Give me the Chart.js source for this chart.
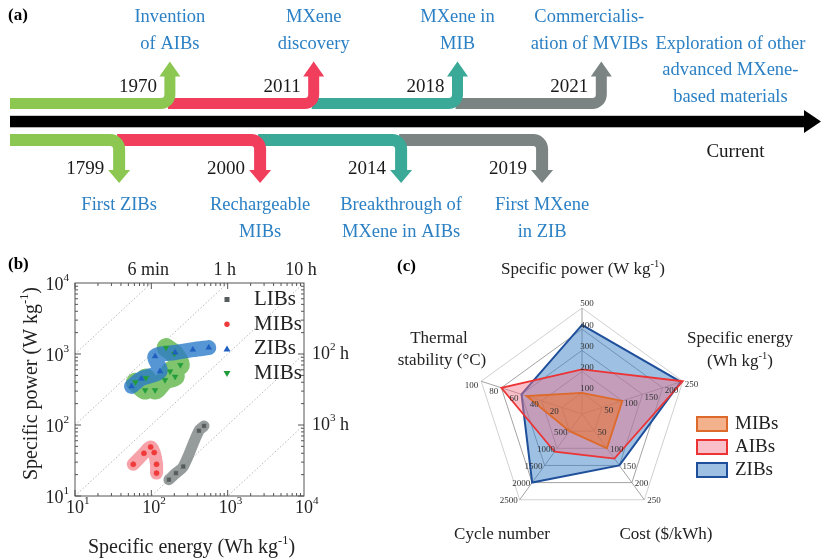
<!DOCTYPE html>
<html>
<head>
<meta charset="utf-8">
<script src="https://cdn.jsdelivr.net/npm/chart.js@4.4.0/dist/chart.umd.min.js"></script>
<style>
    html, body { margin: 0; padding: 0; background: #fff; }
    #wrap { position: relative; width: 829px; height: 560px; overflow: hidden; }
    canvas { position: absolute; }
</style>
</head>
<body>
<div id="wrap">
    <canvas id="timeline" width="829" height="250" style="left:0;top:0"></canvas>
    <canvas id="ragone" width="380" height="310" style="left:0;top:250px"></canvas>
    <canvas id="radar" width="449" height="310" style="left:380px;top:250px"></canvas>
</div>
<script>
// (a) timeline
var topYears = ['1970', '2011', '2018', '2021'];
var topEvents = [['Invention', 'of AIBs'], ['MXene', 'discovery'], ['MXene in', 'MIB'], ['Commercialis-', 'ation of MVIBs']];
var bottomYears = ['1799', '2000', '2014', '2019'];
var bottomEvents = [['First ZIBs'], ['Rechargeable', 'MIBs'], ['Breakthrough of', 'MXene in AIBs'], ['First MXene', 'in ZIB']];
var futureEvent = ['Exploration of other', 'advanced MXene-', 'based materials'];
var nowLabel = 'Current';
var bandColors = ['#8cc751', '#f03e5c', '#3aa997', '#7b8483'];

// (b) Ragone plot
var axisDecades = [10, 100, 1000, 10000];
var libE = [170, 210, 262, 420, 490];
var libP = [17, 21, 26, 83, 97];
var mibE = [58, 80, 98, 109, 117, 117];
var mibP = [28, 40, 49, 41, 28, 21];
var zibE = [55, 74, 130, 112, 205, 350, 565];
var zibP = [350, 450, 570, 930, 1050, 1150, 1230];
var mib2E = [62, 83, 85, 112, 151, 205, 176, 240, 200, 156];
var mib2P = [400, 310, 460, 310, 430, 480, 570, 700, 1010, 1230];
var timeLines = [0.001, 0.01, 0.1, 1, 10, 100];       // hours = E / P
var topTimeAt = [100, 1000, 10000];
var topTimeLabels = ['6 min', '1 h', '10 h'];
var rightTimeAt = [1000, 100];
var rightTimeExp = ['2', '3'];

// (c) radar
var radarAxes = ['Specific power', 'Specific energy', 'Cost', 'Cycle number', 'Thermal stability'];
var axisMax = [500, 250, 250, 2500, 100];
var axisTicks = [
    [100, 200, 300, 400, 500],
    [50, 100, 150, 200, 250],
    [50, 100, 150, 200, 250],
    [500, 1000, 1500, 2000, 2500],
    [20, 40, 60, 80, 100]
];
var radarMIBs = [100, 100, 100, 500, 55];
var radarAIBs = [210, 250, 130, 1100, 80];
var radarZIBs = [420, 245, 150, 2000, 60];

var SERIF = '"Liberation Serif", "DejaVu Serif", serif';
var EVENT_BLUE = '#2c80c4';

function richText(ctx, parts, x, y, size, align) {
    ctx.save();
    ctx.textBaseline = 'middle';
    ctx.textAlign = 'left';
    var widths = parts.map(function (p) {
        ctx.font = (p[1] ? size * 0.62 : size) + 'px ' + SERIF;
        return ctx.measureText(p[0]).width;
    });
    var total = widths.reduce(function (a, b) { return a + b; }, 0);
    var sx = align === 'center' ? x - total / 2 : (align === 'right' ? x - total : x);
    parts.forEach(function (p, i) {
        ctx.font = (p[1] ? size * 0.62 : size) + 'px ' + SERIF;
        ctx.fillText(p[0], sx, p[1] ? y - size * 0.36 : y);
        sx += widths[i];
    });
    ctx.restore();
}

function plainText(ctx, text, x, y, size, align, color, bold) {
    ctx.save();
    ctx.font = (bold ? 'bold ' : '') + size + 'px ' + SERIF;
    ctx.fillStyle = color;
    ctx.textAlign = align;
    ctx.textBaseline = 'middle';
    ctx.fillText(text, x, y);
    ctx.restore();
}

function drawBand(ctx, x0, x1, yc, dir, color, w, baseOff, tipOff, hw) {
    var r = 9;
    ctx.save();
    ctx.strokeStyle = color;
    ctx.fillStyle = color;
    ctx.lineWidth = w;
    ctx.beginPath();
    ctx.moveTo(x0, yc);
    ctx.lineTo(x1 - r, yc);
    ctx.arcTo(x1, yc, x1, yc + dir * r, r);
    ctx.lineTo(x1, yc + dir * (baseOff + 1));
    ctx.stroke();
    ctx.beginPath();
    ctx.moveTo(x1 - hw, yc + dir * baseOff);
    ctx.lineTo(x1 + hw, yc + dir * baseOff);
    ctx.lineTo(x1, yc + dir * tipOff);
    ctx.closePath();
    ctx.fill();
    ctx.restore();
}

var timelinePlugin = {
    id: 'timelineDraw',
    afterDraw: function (chart) {
        var ctx = chart.ctx;
        var xs = chart.scales.x;
        var left = chart.chartArea.left + 10;
        var topX = topYears.map(function (y, i) { return xs.getPixelForValue(i * 1.02 + 0.36); });
        var botX = bottomYears.map(function (y, i) { return xs.getPixelForValue(i); });

        ctx.save();
        ctx.fillStyle = '#000';
        ctx.fillRect(left, 115.8, 806 - left, 11.5);
        ctx.beginPath();
        ctx.moveTo(804, 110);
        ctx.lineTo(821, 121.5);
        ctx.lineTo(804, 133);
        ctx.closePath();
        ctx.fill();
        ctx.restore();

        for (var i = topYears.length - 1; i >= 0; i--) {
            drawBand(ctx, i === 0 ? left : topX[i - 1] - 2, topX[i], 103.5, -1, bandColors[i], 11, 27, 42, 10.5);
            drawBand(ctx, i === 0 ? left : botX[i - 1] - 2, botX[i], 140, 1, bandColors[i], 12, 30, 43, 11);
        }

        topYears.forEach(function (yr, i) {
            plainText(ctx, yr, topX[i] - 13, 87, 19, 'right', '#1a1a1a');
            var lines = topEvents[i];
            var cx = i === topYears.length - 1 ? topX[i] - 12 : topX[i];
            lines.forEach(function (t, l) {
                plainText(ctx, t, cx, 44 - 27 * (lines.length - 1 - l), 18.5, 'center', EVENT_BLUE);
            });
        });
        bottomYears.forEach(function (yr, i) {
            plainText(ctx, yr, botX[i] - 15, 169, 19, 'right', '#1a1a1a');
            bottomEvents[i].forEach(function (t, l) {
                plainText(ctx, t, botX[i], 205 + 27 * l, 18.5, 'center', EVENT_BLUE);
            });
        });
        var nowX = xs.getPixelForValue(4.35);
        futureEvent.forEach(function (t, l) {
            plainText(ctx, t, nowX - 2, 44 + 26.5 * l, 18.5, 'center', EVENT_BLUE);
        });
        plainText(ctx, nowLabel, nowX + 3, 152, 19, 'center', '#1a1a1a');
        plainText(ctx, '(a)', 8, 16, 17, 'left', '#000', true);
    }
};

new Chart(document.getElementById('timeline'), {
    type: 'scatter',
    data: { datasets: [] },
    options: {
        responsive: false,
        animation: false,
        layout: { padding: 0 },
        scales: {
            x: { type: 'linear', display: false, min: -0.845, max: 5.035 },
            y: { display: false, min: 0, max: 1 }
        },
        plugins: { legend: { display: false }, tooltip: { enabled: false } }
    },
    plugins: [timelinePlugin]
});

// ---------- (b) ----------
function pts(xv, yv) {
    return xv.map(function (x, i) { return { x: x, y: yv[i] }; });
}
function ribbon(xv, yv, color, width, tension) {
    return {
        data: pts(xv, yv), showLine: true, borderColor: color, borderWidth: width,
        tension: tension, pointRadius: 0, borderCapStyle: 'round', borderJoinStyle: 'round', fill: false
    };
}
function markers(label, xv, yv, style, color, radius, rotation) {
    return {
        label: label, data: pts(xv, yv), pointStyle: style, pointRadius: radius, rotation: rotation || 0,
        pointBackgroundColor: color, pointBorderColor: color, pointBorderWidth: 0.5, showLine: false
    };
}

var ragoneSets = [
    markers('LIBs', libE, libP, 'rect', '#565b5b', 2.6),
    markers('MIBs', mibE, mibP, 'circle', '#f03a3a', 2.6),
    markers('ZIBs', zibE, zibP, 'triangle', '#1f5fbf', 3.3),
    markers('MIBs', mib2E, mib2P, 'triangle', '#239c3c', 3.3, 180),
    ribbon(zibE, zibP, 'rgba(40,120,200,0.78)', 15, 0.3),
    ribbon(mib2E, mib2P, 'rgba(85,178,60,0.75)', 19, 0.2),
    ribbon(libE, libP, 'rgba(110,118,118,0.72)', 11, 0.35),
    ribbon(mibE, mibP, 'rgba(240,100,110,0.6)', 13, 0.35)
].concat(timeLines.map(function (t) {
    return {
        data: [{ x: 10, y: 10 / t }, { x: 10000, y: 10000 / t }], showLine: true,
        borderColor: '#a5a5a5', borderWidth: 0.8, borderDash: [1.5, 2], pointRadius: 0
    };
}));

function legendMarker(ctx, style, x, y, color) {
    ctx.save();
    ctx.fillStyle = color;
    ctx.beginPath();
    if (style === 'rect') {
        ctx.rect(x - 2.5, y - 2.5, 5, 5);
    } else if (style === 'circle') {
        ctx.arc(x, y, 2.7, 0, Math.PI * 2);
    } else if (style === 'up') {
        ctx.moveTo(x, y - 3.5); ctx.lineTo(x + 3.5, y + 2.5); ctx.lineTo(x - 3.5, y + 2.5);
    } else {
        ctx.moveTo(x, y + 3.5); ctx.lineTo(x + 3.5, y - 2.5); ctx.lineTo(x - 3.5, y - 2.5);
    }
    ctx.closePath();
    ctx.fill();
    ctx.restore();
}

var ragonePlugin = {
    id: 'ragoneDraw',
    afterDraw: function (chart) {
        var ctx = chart.ctx, a = chart.chartArea;
        var xs = chart.scales.x, ys = chart.scales.y;
        ctx.save();
        ctx.strokeStyle = '#555';
        ctx.lineWidth = 1;
        ctx.strokeRect(a.left, a.top, a.right - a.left, a.bottom - a.top);
        ctx.beginPath();
        for (var d = 0; d < axisDecades.length - 1; d++) {
            for (var m = 1; m <= 9; m++) {
                var v = axisDecades[d] * m;
                var len = m === 1 ? 6 : 3;
                var px = xs.getPixelForValue(v), py = ys.getPixelForValue(v);
                ctx.moveTo(px, a.bottom); ctx.lineTo(px, a.bottom - len);
                ctx.moveTo(px, a.top); ctx.lineTo(px, a.top + len);
                ctx.moveTo(a.left, py); ctx.lineTo(a.left + len, py);
                ctx.moveTo(a.right, py); ctx.lineTo(a.right - len, py);
            }
        }
        ctx.stroke();
        ctx.restore();

        ctx.fillStyle = '#222';
        axisDecades.forEach(function (v) {
            var e = String(Math.round(Math.log10(v)));
            var px = xs.getPixelForValue(v), py = ys.getPixelForValue(v);
            richText(ctx, [['10', 0], [e, 1]], px - 9, a.bottom + 12, 18, 'left');
            richText(ctx, [['10', 0], [e, 1]], a.left - 6, py + 2, 18, 'right');
        });
        topTimeAt.forEach(function (v, i) {
            plainText(ctx, topTimeLabels[i], xs.getPixelForValue(v) - 3, a.top - 13, 18, 'center', '#222');
        });
        ctx.fillStyle = '#222';
        rightTimeAt.forEach(function (v, i) {
            richText(ctx, [['10', 0], [rightTimeExp[i], 1], [' h', 0]], a.right + 8, ys.getPixelForValue(v), 18, 'left');
        });

        richText(ctx, [['Specific energy (Wh kg', 0], ['-1', 1], [')', 0]], (a.left + a.right) / 2 + 2, 298, 20, 'center');
        ctx.save();
        ctx.translate(32, (a.top + a.bottom) / 2 - 6);
        ctx.rotate(-Math.PI / 2);
        richText(ctx, [['Specific power (W kg', 0], ['-1', 1], [')', 0]], 0, 0, 20, 'center');
        ctx.restore();

        var legendRows = [['LIBs', 'rect', '#565b5b'], ['MIBs', 'circle', '#f03a3a'], ['ZIBs', 'up', '#1f5fbf'], ['MIBs', 'down', '#239c3c']];
        legendRows.forEach(function (r, i) {
            var y = a.top + 16.5 + 24.7 * i;
            legendMarker(ctx, r[1], a.right - 77, y, r[2]);
            plainText(ctx, r[0], a.right - 50, y, 21, 'left', '#222');
        });
        plainText(ctx, '(b)', 8, 15, 17, 'left', '#000', true);
    }
};

new Chart(document.getElementById('ragone'), {
    type: 'scatter',
    data: { datasets: ragoneSets },
    options: {
        responsive: false,
        animation: false,
        layout: { padding: { left: 75, right: 76, top: 33, bottom: 64 } },
        scales: {
            x: { type: 'logarithmic', min: 10, max: 10000, display: false },
            y: { type: 'logarithmic', min: 10, max: 10000, display: false }
        },
        plugins: { legend: { display: false }, tooltip: { enabled: false } }
    },
    plugins: [ragonePlugin]
});

// ---------- (c) ----------
function norm(vals) {
    return vals.map(function (v, i) { return v / axisMax[i]; });
}

var tickPlace = [
    { align: 'center', dx: 5, dy: -4 },
    { align: 'left', dx: 2, dy: 3 },
    { align: 'left', dx: 3, dy: 1 },
    { align: 'right', dx: -2, dy: 1 },
    { align: 'right', dx: -3, dy: 4 }
];

var radarPlugin = {
    id: 'radarDraw',
    afterDraw: function (chart) {
        var ctx = chart.ctx, r = chart.scales.r;
        axisTicks.forEach(function (list, i) {
            list.forEach(function (t) {
                var p = r.getPointPositionForValue(i, t / axisMax[i]);
                plainText(ctx, String(t), p.x + tickPlace[i].dx, p.y + tickPlace[i].dy, 9, tickPlace[i].align, '#333');
            });
        });

        ctx.fillStyle = '#222';
        richText(ctx, [['Specific power (W kg', 0], ['-1', 1], [')', 0]], 203, 20, 17, 'center');
        richText(ctx, [['Specific energy', 0]], 360, 89, 17, 'center');
        richText(ctx, [['(Wh kg', 0], ['-1', 1], [')', 0]], 360, 112, 17, 'center');
        richText(ctx, [['Thermal', 0]], 59, 89, 17, 'center');
        richText(ctx, [['stability (\u00b0C)', 0]], 62, 111, 17, 'center');
        richText(ctx, [['Cycle number', 0]], 122, 285, 17, 'center');
        richText(ctx, [['Cost ($/kWh)', 0]], 286, 285, 17, 'center');
        plainText(ctx, '(c)', 17, 17, 17, 'left', '#000', true);

        chart.data.datasets.forEach(function (ds, i) {
            var y = 167 + 23 * i;
            ctx.save();
            ctx.fillStyle = '#fff';
            ctx.fillRect(317, y, 30, 14);
            ctx.fillStyle = ds.backgroundColor;
            ctx.fillRect(317, y, 30, 14);
            ctx.strokeStyle = ds.borderColor;
            ctx.lineWidth = 2;
            ctx.strokeRect(317, y, 30, 14);
            ctx.restore();
            plainText(ctx, ds.label, 355, y + 7, 19, 'left', '#222');
        });
    }
};

new Chart(document.getElementById('radar'), {
    type: 'radar',
    data: {
        labels: radarAxes,
        datasets: [
            { label: 'MIBs', data: norm(radarMIBs), borderColor: '#dd6a2a', backgroundColor: 'rgba(235,115,45,0.55)', borderWidth: 1.8, pointRadius: 0, fill: true },
            { label: 'AIBs', data: norm(radarAIBs), borderColor: '#ec3434', backgroundColor: 'rgba(245,115,135,0.45)', borderWidth: 1.8, pointRadius: 0, fill: true },
            { label: 'ZIBs', data: norm(radarZIBs), borderColor: '#1f4f9a', backgroundColor: 'rgba(60,130,200,0.5)', borderWidth: 2, pointRadius: 0, fill: true }
        ]
    },
    options: {
        responsive: false,
        animation: false,
        layout: { padding: { left: 96, right: 141, top: 58, bottom: 40 } },
        elements: { line: { tension: 0 } },
        scales: {
            r: {
                min: 0,
                max: 1,
                ticks: { display: false, stepSize: 0.2 },
                grid: {
                    color: function (c) { return c.index === 5 ? '#c4c4c4' : '#8c8c8c'; },
                    lineWidth: 0.8
                },
                angleLines: { color: '#8c8c8c', lineWidth: 0.8 },
                pointLabels: { display: false }
            }
        },
        plugins: { legend: { display: false }, tooltip: { enabled: false } }
    },
    plugins: [radarPlugin]
});
</script>
</body>
</html>
